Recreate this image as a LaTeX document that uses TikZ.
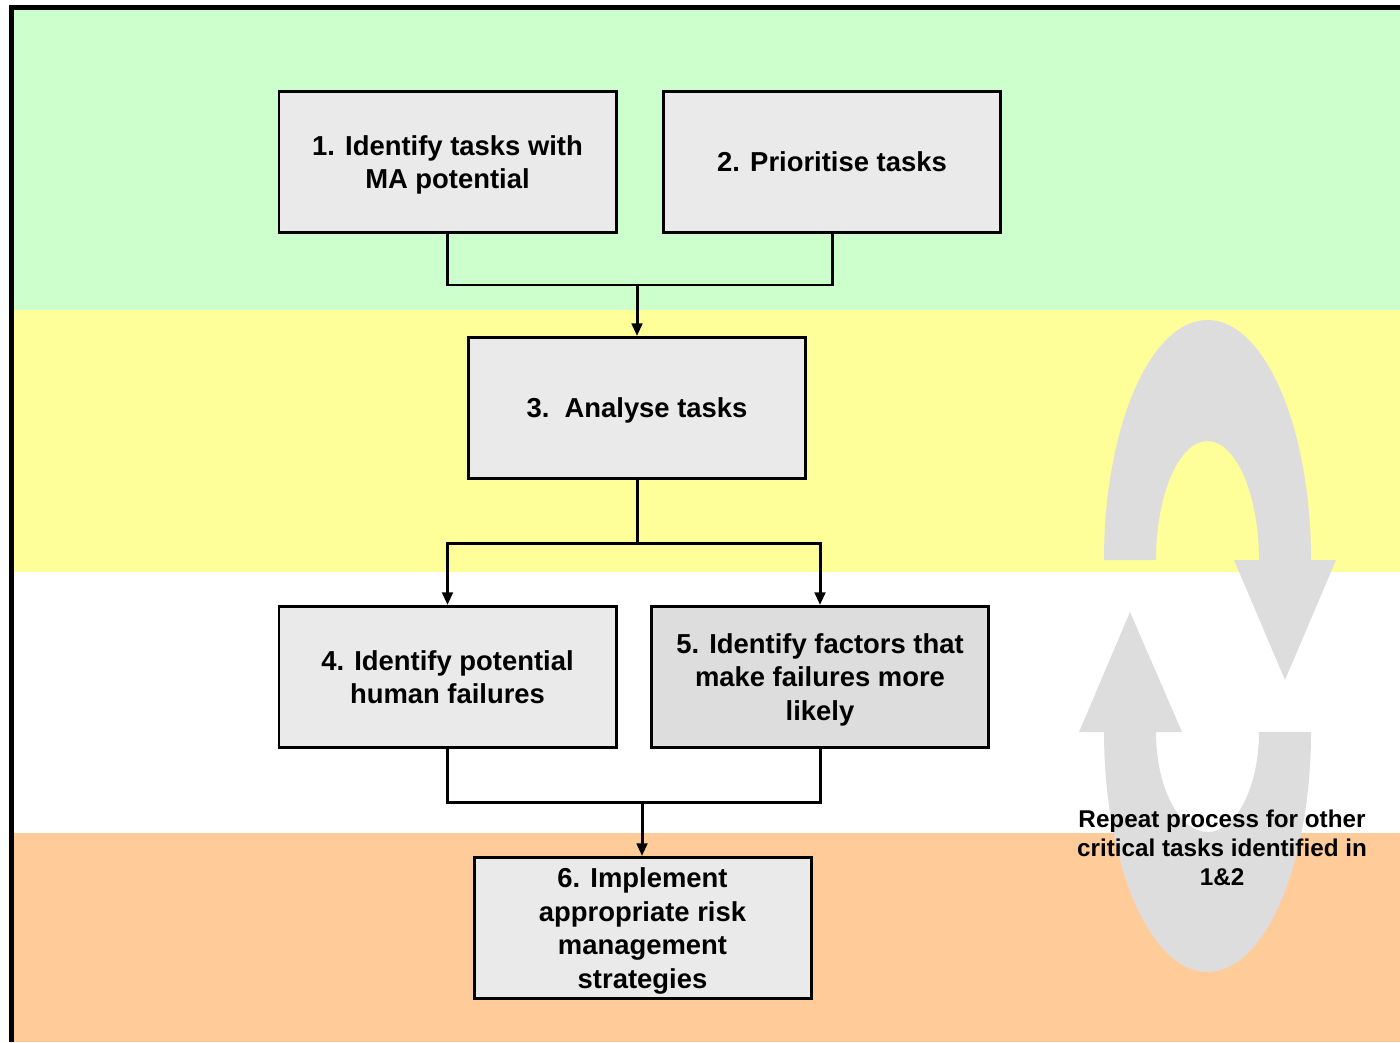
\documentclass[tikz,border=0pt]{standalone}
\usepackage{fontspec}
\setmainfont{Liberation Sans}
\usepackage{tikz}
\usetikzlibrary{arrows.meta}
\pgfdeclarelayer{bg}
\pgfsetlayers{bg,main}
\definecolor{bandgreen}{HTML}{CCFFCC}
\definecolor{bandyellow}{HTML}{FFFF99}
\definecolor{bandorange}{HTML}{FFCC99}
\definecolor{boxgrey}{HTML}{EAEAEA}
\definecolor{boxdark}{HTML}{DDDDDD}
\definecolor{loopgrey}{HTML}{DDDDDD}
\tikzset{
  task/.style={draw, line width=0.85pt, fill=boxgrey, minimum width=3.37cm, minimum height=1.41cm,
    align=center, text depth=0pt, font=\fontsize{7.8}{9.6}\selectfont\bfseries},
  link/.style={line width=0.85pt},
  arr/.style={link, -{Triangle[width=3pt,length=3.6pt]}}
}
\begin{document}
\begin{tikzpicture}
        \useasboundingbox (0cm, 0cm) rectangle (14cm, -10.42cm);
        \begin{pgfonlayer}{bg}
                \fill[bandgreen] (0.14cm, -0.10cm) rectangle (14cm, -3.10cm);
                \fill[bandyellow] (0.14cm, -3.10cm) rectangle (14cm, -5.72cm);
                \fill[bandorange] (0.14cm, -8.33cm) rectangle (14cm, -10.42cm);
                % repeat loop
                \fill[loopgrey] (11.04cm, -5.60cm) arc[start angle=180, end angle=0, x radius=1.035cm, y radius=2.40cm]
                        -- (13.36cm, -5.60cm) -- (12.85cm, -6.80cm) -- (12.34cm, -5.60cm) -- (12.59cm, -5.60cm)
                        arc[start angle=0, end angle=180, x radius=0.515cm, y radius=1.19cm] -- cycle;
                \fill[loopgrey] (13.11cm, -7.32cm) arc[start angle=0, end angle=-180, x radius=1.035cm, y radius=2.40cm]
                        -- (10.79cm, -7.32cm) -- (11.30cm, -6.12cm) -- (11.82cm, -7.32cm) -- (11.56cm, -7.32cm)
                        arc[start angle=180, end angle=360, x radius=0.515cm, y radius=1.00cm] -- cycle;
                \draw[line width=1.4pt] (0.115cm, -10.42cm) -- (0.115cm, -0.075cm) -- (14cm, -0.075cm);
        \end{pgfonlayer}
        \node (repeat) [align=center, font=\fontsize{6.9}{8.25}\selectfont\bfseries] at (12.22cm, -8.48cm)
                {Repeat process for other\\critical tasks identified in\\1\&2};
        \node (t1) [task] at (4.475cm, -1.62cm) {1. Identify tasks with\\MA potential};
        \node (t2) [task] at (8.32cm, -1.62cm) {2. Prioritise tasks};
        \node (t3) [task] at (6.37cm, -4.08cm) {3.~~Analyse tasks};
        \node (t4) [task] at (4.475cm, -6.77cm) {4. Identify potential\\human failures};
        \node (t5) [task, fill=boxdark] at (8.20cm, -6.77cm) {5. Identify factors that\\make failures more\\likely};
        \node (t6) [task, inner sep=0pt] at (6.425cm, -9.28cm) {6. Implement\\appropriate risk\\management\\strategies};
        \coordinate (j1) at (6.37cm, -2.85cm);
        \coordinate (j2) at (6.37cm, -5.43cm);
        \coordinate (j3) at (6.42cm, -8.02cm);
        \draw[link] (t1) |- (j1) -| (t2);
        \draw[arr] (j1) -- (t3);
        \draw[link] (t3) -- (j2);
        \draw[arr] (j2) -| (t4);
        \draw[arr] (j2) -| (t5);
        \draw[link] (t4) |- (j3) -| (t5);
        \draw[arr] (j3) -- (j3 |- t6.north);
\end{tikzpicture}
\end{document}
